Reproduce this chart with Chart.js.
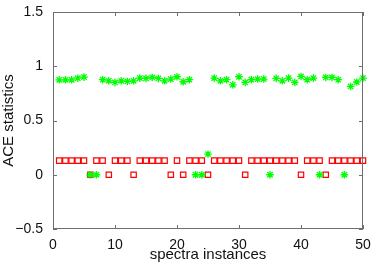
<!DOCTYPE html>
<html>
<head>
<meta charset="utf-8">
<script src="https://cdn.jsdelivr.net/npm/chart.js@4"></script>
<style>
  html, body { margin: 0; padding: 0; background: #fff; }
  #wrap { width: 374px; height: 264px; }
</style>
</head>
<body>
<div id="wrap"><canvas id="aceChart"></canvas></div>
<script>
// ===== data =====
const instances = [1,2,3,4,5,6,7,8,9,10,11,12,13,14,15,16,17,18,19,20,21,22,23,24,25,
                   26,27,28,29,30,31,32,33,34,35,36,37,38,39,40,41,42,43,44,45,46,47,48,49,50];

// green asterisks
const aceStar = [0.875,0.875,0.875,0.89,0.90,0,0,0.876,0.866,0.851,
                 0.866,0.86,0.866,0.891,0.888,0.897,0.888,0.866,0.882,0.903,
                 0.857,0.876,0,0,0.19,0.891,0.866,0.876,0.829,0.903,
                 0.851,0.876,0.882,0.882,0,0.888,0.866,0.891,0.851,0.906,
                 0.876,0.891,0,0.897,0.897,0.876,0,0.814,0.855,0.891];

// red squares
const aceSquare = [0.13,0.13,0.13,0.13,0.13,0,0.13,0.13,0,0.13,
                   0.13,0.13,0,0.13,0.13,0.13,0.13,0.13,0,0.13,
                   0,0.13,0.13,0.13,0,0.13,0.13,0.13,0.13,0.13,
                   0,0.13,0.13,0.13,0.13,0.13,0.13,0.13,0.13,0,
                   0.13,0.13,0.13,0,0.13,0.13,0.13,0.13,0.13,0.13];

const xTicks = [0, 10, 20, 30, 40, 50];
const yTicks = [-0.5, 0, 0.5, 1, 1.5];

function toPoints(ys) {
    return instances.map((x, i) => ({ x: x, y: ys[i] }));
}

// MATLAB style box with inward ticks on all sides
const boxPlugin = {
    id: 'box',
    afterDraw(chart) {
        const ctx = chart.ctx;
        const a = chart.chartArea;
        const xs = chart.scales.x, ys = chart.scales.y;
        const len = 4;
        ctx.save();
        ctx.strokeStyle = '#6e6e6e';
        ctx.lineWidth = 1;
        ctx.strokeRect(a.left + 0.5, a.top + 0.5, a.right - a.left - 1, a.bottom - a.top - 1);
        ctx.beginPath();
        xTicks.forEach(v => {
            const px = Math.round(xs.getPixelForValue(v)) + 0.5;
            ctx.moveTo(px, a.bottom); ctx.lineTo(px, a.bottom - len);
            ctx.moveTo(px, a.top); ctx.lineTo(px, a.top + len);
        });
        yTicks.forEach(v => {
            const py = Math.round(ys.getPixelForValue(v)) + 0.5;
            ctx.moveTo(a.left, py); ctx.lineTo(a.left + len, py);
            ctx.moveTo(a.right, py); ctx.lineTo(a.right - len, py);
        });
        ctx.stroke();
        ctx.restore();
    }
};

const ctx = document.getElementById('aceChart').getContext('2d');
new Chart(ctx, {
    type: 'scatter',
    data: {
        datasets: [
            {
                label: 'star',
                data: toPoints(aceStar),
                pointStyle: 'star',
                pointRadius: 3.8,
                pointBorderWidth: 1.3,
                borderColor: '#00ff00',
                backgroundColor: '#00ff00',
                clip: false,
                order: 0
            },
            {
                label: 'square',
                data: toPoints(aceSquare),
                pointStyle: 'rect',
                pointRadius: 3.8,
                pointBorderWidth: 1.2,
                borderColor: '#ff0000',
                backgroundColor: 'rgba(0,0,0,0)',
                clip: false,
                order: 1
            }
        ]
    },
    options: {
        responsive: true,
        maintainAspectRatio: false,
        animation: false,
        layout: { padding: { left: 0, right: 11, top: 12, bottom: 0 } },
        plugins: { legend: { display: false }, tooltip: { enabled: false } },
        scales: {
            x: {
                type: 'linear', min: 0, max: 50,
                afterBuildTicks: s => { s.ticks = xTicks.map(v => ({ value: v })); },
                afterFit: s => { s.height = 35; },
                grid: { display: false },
                border: { display: false },
                ticks: { color: '#111', padding: 0, maxRotation: 0,
                         font: { family: 'Liberation Sans', size: 14 } },
                title: { display: true, text: 'spectra instances', color: '#111', padding: 0,
                         font: { family: 'Liberation Sans', size: 15 } }
            },
            y: {
                type: 'linear', min: -0.5, max: 1.5,
                afterBuildTicks: s => { s.ticks = yTicks.map(v => ({ value: v })); },
                afterFit: s => { s.width = 53; },
                grid: { display: false },
                border: { display: false },
                ticks: { color: '#111', padding: 2,
                         font: { family: 'Liberation Sans', size: 14 },
                         callback: v => String(v).replace('-', '\u2212') },
                title: { display: true, text: 'ACE statistics', color: '#111', padding: { top: 0, bottom: 0 },
                         font: { family: 'Liberation Sans', size: 15 } }
            }
        }
    },
    plugins: [boxPlugin]
});
</script>
</body>
</html>
